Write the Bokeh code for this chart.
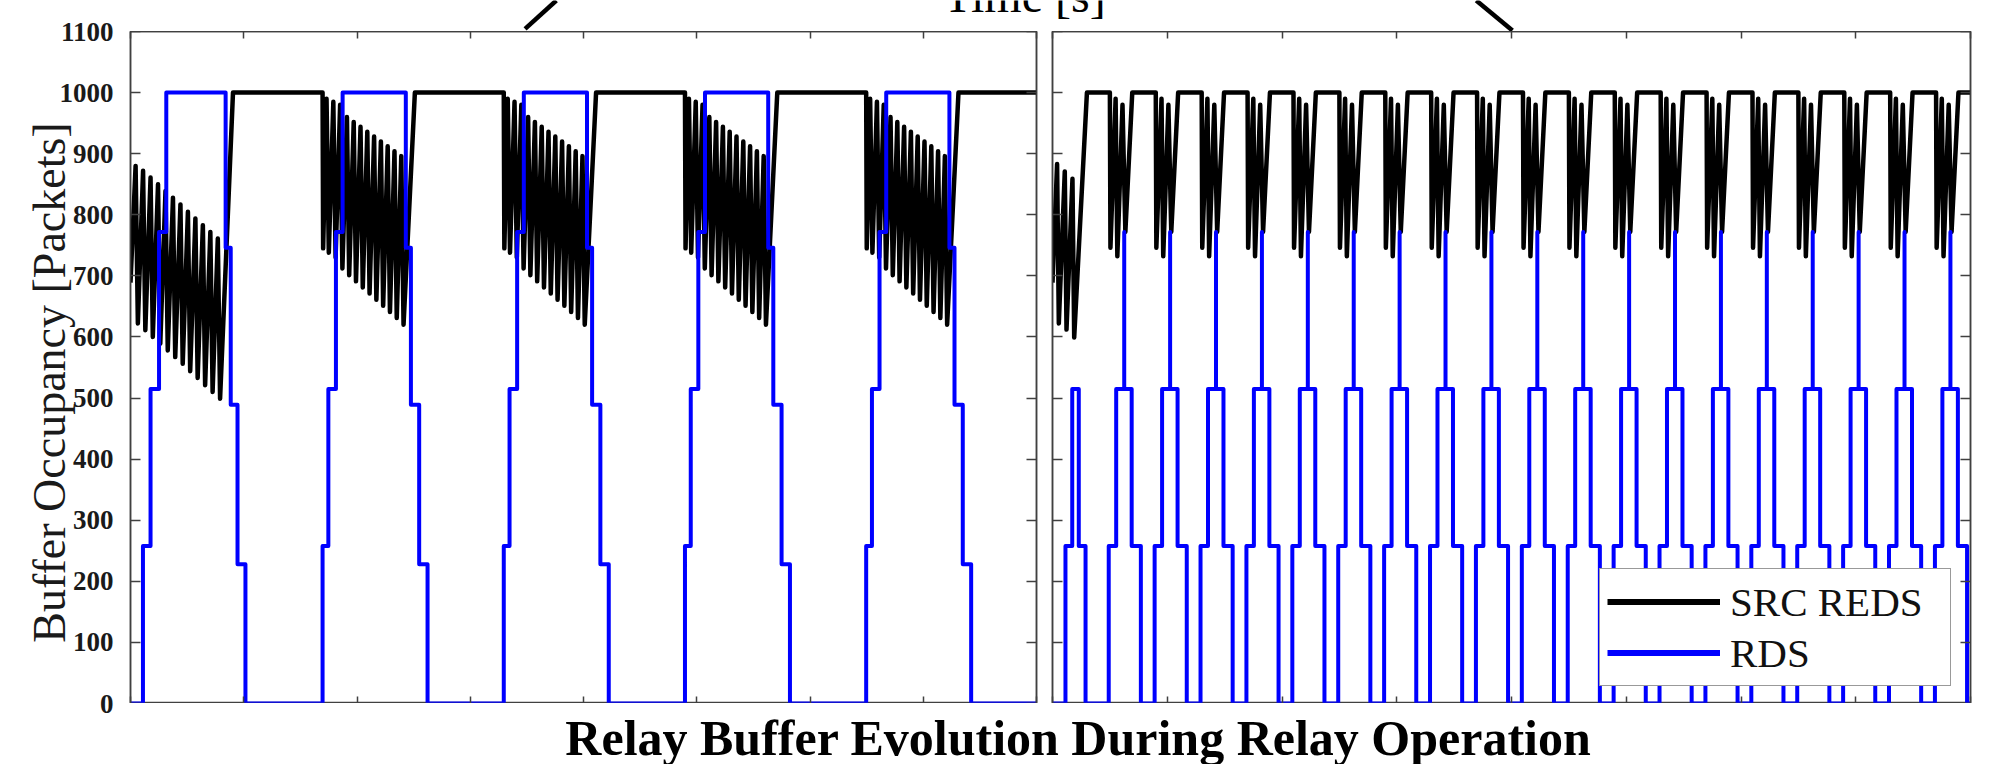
from bokeh.plotting import figure
from bokeh.models import Range1d, FixedTicker, LinearAxis, Legend, LegendItem
from bokeh.layouts import column, row
from bokeh.embed import file_html
from bokeh.resources import INLINE
from bokeh.core.properties import value

# ---------------- data ----------------
# x: 8 tick intervals per panel (the original shows no x tick labels)
X_TICKS = [0, 1, 2, 3, 4, 5, 6, 7, 8]
Y_TICKS = [0, 100, 200, 300, 400, 500, 600, 700, 800, 900, 1000, 1100]
Y_TICK_LABELS = ["0", "100", "200", "300", "400", "500", "600", "700",
                 "800", "900", "1000", "1100"]

# ---- left panel: SRC REDS (black) ----
left_src_first_t = [0.000, 0.045, 0.065, 0.111, 0.131, 0.177, 0.197, 0.243, 0.263,
                    0.309, 0.329, 0.375, 0.395, 0.441, 0.461, 0.507, 0.527, 0.573,
                    0.593, 0.639, 0.659, 0.705, 0.725, 0.771, 0.791, 0.905]
left_src_first_v = [689, 880, 622, 872, 611, 861, 600, 850, 589,
                    839, 578, 828, 567, 817, 556, 805, 544, 794,
                    533, 783, 521, 772, 510, 761, 499, 1000]
left_burst_starts = [1.696, 3.296, 4.896, 6.496]
left_src_burst_dt = [0.000, 0.005, 0.035, 0.055, 0.095, 0.115, 0.155, 0.175, 0.215,
                     0.235, 0.275, 0.295, 0.335, 0.355, 0.395, 0.415, 0.455, 0.475,
                     0.515, 0.535, 0.575, 0.595, 0.635, 0.655, 0.695, 0.715, 0.815]
left_src_burst_v = [1000, 745, 990, 738, 985, 730, 980, 712, 960,
                    701, 952, 691, 944, 681, 936, 671, 928, 661,
                    920, 651, 912, 641, 904, 631, 896, 620, 1000]

# ---- left panel: RDS (blue), step changes ----
left_rds_first_t = [0.110, 0.177, 0.252, 0.316, 0.840, 0.885, 0.945, 1.015]
left_rds_first_v = [258, 515, 772, 1000, 746, 489, 228, 0]
left_rds_cycle_dt = [0.000, 0.051, 0.118, 0.177, 0.735, 0.780, 0.853, 0.927]
left_rds_cycle_v = [258, 515, 772, 1000, 746, 489, 228, 0]

# ---- right panel: SRC REDS (black) ----
right_src_first_t = [0.000, 0.040, 0.055, 0.107, 0.122, 0.174, 0.189, 0.300]
right_src_first_v = [689, 883, 622, 871, 612, 859, 599, 1000]
right_burst_starts = [0.50, 0.90, 1.30, 1.70, 2.10, 2.50, 2.90, 3.30, 3.70, 4.10,
                      4.50, 4.90, 5.30, 5.70, 6.10, 6.50, 6.90, 7.30, 7.70]
right_src_burst_dt = [0.000, 0.005, 0.050, 0.065, 0.110, 0.135, 0.195]
right_src_burst_v = [1000, 746, 990, 732, 980, 772, 1000]

# ---- right panel: RDS (blue), step changes ----
right_rds_first_t = [0.113, 0.172, 0.229, 0.288]
right_rds_first_v = [258, 515, 258, 0]
right_rds_starts = [0.49, 0.89, 1.29, 1.69, 2.09, 2.49, 2.89, 3.29, 3.69, 4.09,
                    4.49, 4.89, 5.29, 5.69, 6.09, 6.49, 6.89, 7.29, 7.69]
right_rds_cycle_dt = [0.000, 0.065, 0.135, 0.135, 0.200, 0.280]
right_rds_cycle_v = [258, 515, 772, 515, 258, 0]

# zoom call-out lines above the panels (x in panel units, y in px above panel top)
callout_left_x = [3.484, 3.760]
callout_left_y = [2.7, 31.0]
callout_right_x = [4.008, 3.693]
callout_right_y = [1.0, 31.0]

X_END = 8.0
Y_END = 1100

# ---------------- helpers ----------------
def build_steps(first_t, first_v, starts, dt, vals, t_end, v0=0):
    xs, ys, cur = [0.0], [v0], v0
    events = list(zip(first_t, first_v))
    for T in starts:
        events += [(T + d, v) for d, v in zip(dt, vals)]
    for t, v in events:
        xs += [t, t]
        ys += [cur, v]
        cur = v
    xs.append(t_end)
    ys.append(cur)
    return xs, ys


def build_poly(first_t, first_v, starts, dt, vals, t_end):
    xs, ys = list(first_t), list(first_v)
    for T in starts:
        xs += [T + d for d in dt]
        ys += list(vals)
    xs.append(t_end)
    ys.append(ys[-1])
    return xs, ys


FONT = "Liberation Serif"
AX = "#404040"

# layout constants (pixels)
AXIS_W = 128          # column holding the y tick labels and the y axis title
L_BORDER = 2
L_FRAME = 906
GAP_L = 8
GAP_R = 8
R_FRAME = 918
R_BORDER = 21
FRAME_H = 672
TOP_H = 31
BOT_H = 61
LABEL_EXT = 30        # lets the y title sit a little lower than the frame centre
STRIP_W = L_BORDER + L_FRAME + GAP_L + GAP_R + R_FRAME + R_BORDER


def style_axis(ax, is_y):
    ax.axis_line_color = AX
    ax.axis_line_width = 1.5
    ax.major_tick_line_color = AX
    ax.major_tick_line_width = 1.5
    ax.major_tick_in = 10 if is_y else 7
    ax.major_tick_out = 0
    ax.minor_tick_line_color = None
    ax.major_label_text_font_size = "0px"
    ax.major_label_text_color = None
    ax.major_label_standoff = 0


def panel(frame_w, mb_left, mb_right):
    p = figure(title=None, frame_width=frame_w, frame_height=FRAME_H,
               x_range=Range1d(0, X_END), y_range=Range1d(0, Y_END),
               x_axis_location=None, y_axis_location=None,
               toolbar_location=None, output_backend="svg",
               min_border_left=mb_left, min_border_right=mb_right,
               min_border_top=0, min_border_bottom=0,
               background_fill_color="white", border_fill_color="white",
               outline_line_color=AX, outline_line_width=1.5)
    p.grid.visible = False
    for loc in ("left", "right", "above", "below"):
        is_y = loc in ("left", "right")
        ax = LinearAxis(ticker=FixedTicker(ticks=Y_TICKS if is_y else X_TICKS))
        style_axis(ax, is_y)
        p.add_layout(ax, loc)
    return p


# ---------------- y tick labels + title (own column, so end labels are not cut) ----------------
px_per_unit = FRAME_H / Y_END
yax = figure(title=None, frame_width=1, frame_height=FRAME_H + LABEL_EXT,
             x_range=Range1d(0, 1), y_range=Range1d(-LABEL_EXT / px_per_unit, Y_END),
             x_axis_location=None, y_axis_location=None, toolbar_location=None,
             output_backend="svg", min_border_left=AXIS_W - 1, min_border_right=0,
             min_border_top=TOP_H, min_border_bottom=BOT_H - LABEL_EXT,
             outline_line_color=None, background_fill_color="white",
             border_fill_color="white")
yax.grid.visible = False
lab = LinearAxis(ticker=FixedTicker(ticks=Y_TICKS))
lab.axis_line_color = None
lab.major_tick_line_color = None
lab.minor_tick_line_color = None
lab.major_label_overrides = {t: s for t, s in zip(Y_TICKS, Y_TICK_LABELS)}
lab.major_label_text_font = FONT
lab.major_label_text_font_style = "bold"
lab.major_label_text_font_size = "27px"
lab.major_label_text_color = "#1a1a1a"
lab.major_label_standoff = 8
lab.axis_label = "Buffer Occupancy [Packets]"
lab.axis_label_text_font = FONT
lab.axis_label_text_font_style = "normal"
lab.axis_label_text_font_size = "46px"
lab.axis_label_text_color = "#1a1a1a"
lab.axis_label_standoff = -18
yax.add_layout(lab, "left")

# ---------------- left panel ----------------
pl = panel(L_FRAME, L_BORDER, GAP_L)
lx, ly = build_poly(left_src_first_t, left_src_first_v, left_burst_starts,
                    left_src_burst_dt, left_src_burst_v, X_END)
pl.line(lx, ly, line_color="black", line_width=4.5, line_join="round")
bx, by = build_steps(left_rds_first_t, left_rds_first_v, left_burst_starts,
                     left_rds_cycle_dt, left_rds_cycle_v, X_END)
pl.line(bx, by, line_color="#0000ff", line_width=4, line_join="round")

# ---------------- right panel ----------------
pr = panel(R_FRAME, GAP_R, R_BORDER)
rx, ry = build_poly(right_src_first_t, right_src_first_v, right_burst_starts,
                    right_src_burst_dt, right_src_burst_v, X_END)
pr.line(rx, ry, line_color="black", line_width=4.5, line_join="round")
qx, qy = build_steps(right_rds_first_t, right_rds_first_v, right_rds_starts,
                     right_rds_cycle_dt, right_rds_cycle_v, X_END)
pr.line(qx, qy, line_color="#0000ff", line_width=4, line_join="round")

# legend samples (thicker line swatches, as in the original legend); no visible data
nan = float("nan")
leg_black = pr.line(x=[nan, nan], y=[nan, nan], line_color="black", line_width=6)
leg_blue = pr.line(x=[nan, nan], y=[nan, nan], line_color="#0000ff", line_width=6)
legend = Legend(items=[LegendItem(label="SRC REDS", renderers=[leg_black]),
                       LegendItem(label="RDS", renderers=[leg_blue])],
                location=(547, 17), orientation="vertical",
                label_text_font=FONT, label_text_font_size="41px",
                label_text_color="#111111",
                glyph_width=113, glyph_height=51, label_height=51, label_width=213,
                label_standoff=10, padding=7, spacing=0, margin=0,
                border_line_color="#333333", border_line_width=1.5,
                background_fill_color="white", background_fill_alpha=1.0)
pr.add_layout(legend)

# ---------------- top strip (call-outs + cut "Time [s]" label) ----------------
l_scale = L_FRAME / X_END
r_scale = R_FRAME / X_END
r_left = L_BORDER + L_FRAME + GAP_L + GAP_R
top = figure(title=None, width=STRIP_W, height=TOP_H,
             x_range=Range1d(-L_BORDER / l_scale, (STRIP_W - L_BORDER) / l_scale),
             y_range=Range1d(0, TOP_H),
             x_axis_type=None, y_axis_type=None, toolbar_location=None,
             output_backend="svg", min_border=0, outline_line_color=None,
             background_fill_color="white", border_fill_color="white")
top.grid.visible = False
top.extra_x_ranges = {"right": Range1d(-r_left / r_scale, (STRIP_W - r_left) / r_scale)}
top.line(callout_left_x, callout_left_y, line_color="black", line_width=4.5)
top.line(callout_right_x, callout_right_y, line_color="black", line_width=4.5,
         x_range_name="right")
# the parent figure's axis title, mostly cut off by the top edge as in the original
TIME_SIZE = 48
top.text(x=[X_END - 0.106], y=[19.5], text=["Time [s]"], text_font=value(FONT),
         text_font_size=f"{TIME_SIZE}px", text_align="center", text_baseline="middle",
         y_offset=-0.3375 * TIME_SIZE, text_color="black")

# ---------------- bottom strip (caption) ----------------
CAP_SIZE = 50
bot = figure(title=None, width=STRIP_W, height=BOT_H,
             x_range=Range1d(-L_BORDER / l_scale, (STRIP_W - L_BORDER) / l_scale),
             y_range=Range1d(0, BOT_H),
             x_axis_type=None, y_axis_type=None, toolbar_location=None,
             output_backend="svg", min_border=0, outline_line_color=None,
             background_fill_color="white", border_fill_color="white")
bot.grid.visible = False
bot.text(x=[8.371], y=[27], text=["Relay Buffer Evolution During Relay Operation"],
         text_font=value(FONT), text_font_style="bold", text_font_size=f"{CAP_SIZE}px",
         text_align="center", text_baseline="middle", text_color="black")

layout = row(yax, column(top, row(pl, pr, spacing=0), bot, spacing=0), spacing=0)
open("out.html", "w").write(file_html(layout, INLINE))
